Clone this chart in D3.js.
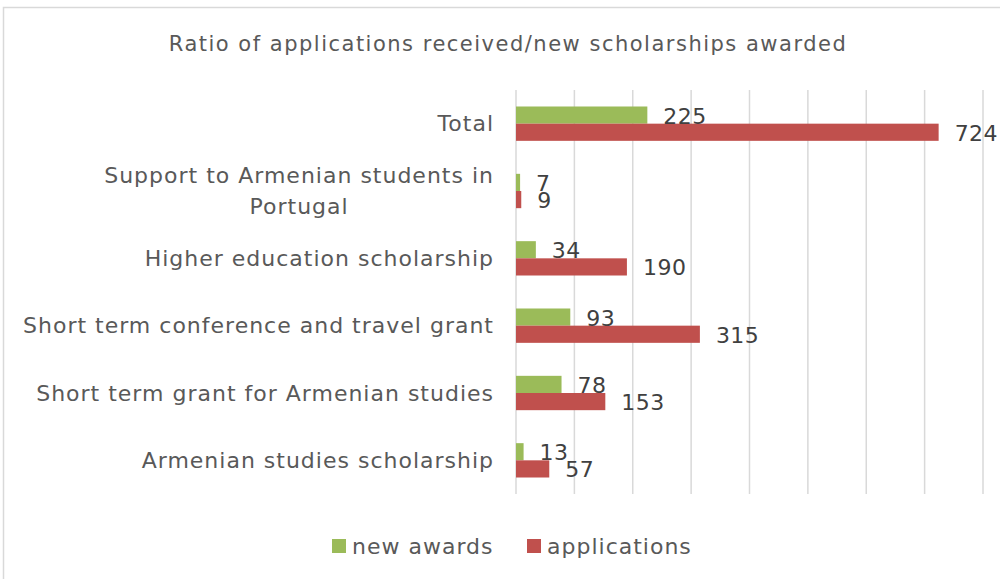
<!DOCTYPE html>
<html>
<head>
<meta charset="utf-8">
<script src="https://d3js.org/d3.v7.min.js"></script>
<style>
  body { margin: 0; background: #fff; }
  text { font-family: 'DejaVu Sans', sans-serif; }
</style>
</head>
<body>
<svg id="chart"></svg>
<script>
const title = 'Ratio of applications received/new scholarships awarded';
const categories = [
  'Total',
  'Support to Armenian students in Portugal',
  'Higher education scholarship',
  'Short term conference and travel grant',
  'Short term grant for Armenian studies',
  'Armenian studies scholarship'
];
const seriesNames = ['new awards', 'applications'];
const newAwards = [225, 7, 34, 93, 78, 13];
const applications = [724, 9, 190, 315, 153, 57];
const xTicks = [0, 100, 200, 300, 400, 500, 600, 700, 800];

const width = 1000;
const height = 579;
const colors = {'new awards': '#9bbb59', 'applications': '#c0504d'};

const svg = d3.select('#chart')
  .attr('width', width)
  .attr('height', height);

// outer frame
svg.append('rect')
  .attr('x', 3.5)
  .attr('y', 7.5)
  .attr('width', width + 10)
  .attr('height', height + 10)
  .attr('fill', '#fff')
  .attr('stroke', '#d9d9d9')
  .attr('stroke-width', 1.5);

svg.append('text')
  .attr('x', 508)
  .attr('y', 44)
  .attr('text-anchor', 'middle')
  .attr('dominant-baseline', 'central')
  .attr('fill', '#595959')
  .style('font-size', '21px')
  .style('letter-spacing', '1.5px')
  .text(title);

const data = categories.map((c, i) => ({
  category: c,
  values: [
    {key: 'new awards', value: newAwards[i]},
    {key: 'applications', value: applications[i]}
  ]
}));

const xScale = d3.scaleLinear()
  .domain([0, 800])
  .range([516, 983]);

const yScale = d3.scaleBand()
  .domain(categories)
  .range([90, 494])
  .paddingInner(0.49)
  .paddingOuter(0.245);

const subScale = d3.scaleBand()
  .domain(seriesNames)
  .range([0, yScale.bandwidth()]);

// gridlines
svg.append('g')
  .selectAll('line')
  .data(xTicks)
  .join('line')
    .attr('x1', d => xScale(d))
    .attr('x2', d => xScale(d))
    .attr('y1', 90)
    .attr('y2', 494)
    .attr('stroke', '#d9d9d9')
    .attr('stroke-width', 1.5);

// category labels (wrapped lines are centred within the right-aligned block)
const labelMax = 480;
const labelX = 494;
const catG = svg.append('g');
catG.selectAll('text')
  .data(categories)
  .join('text')
    .attr('fill', '#595959')
    .style('font-size', '22px')
    .style('letter-spacing', '1px')
    .each(function(d) {
      const t = d3.select(this);
      const words = d.split(' ');
      const lines = [];
      let line = [];
      let tspan = t.append('tspan');
      words.forEach(w => {
        line.push(w);
        tspan.text(line.join(' '));
        if (tspan.node().getComputedTextLength() > labelMax && line.length > 1) {
          line.pop();
          lines.push(line.join(' '));
          line = [w];
          tspan.text(w);
        }
      });
      lines.push(line.join(' '));
      let maxW = 0;
      lines.forEach(l => {
        tspan.text(l);
        maxW = Math.max(maxW, tspan.node().getComputedTextLength());
      });
      tspan.remove();
      const lh = 31;
      const cy = yScale(d) + yScale.bandwidth() / 2;
      const cx = labelX - maxW / 2;
      t.attr('text-anchor', 'middle');
      lines.forEach((l, i) => {
        t.append('tspan')
          .attr('x', cx)
          .attr('y', cy + (i - (lines.length - 1) / 2) * lh)
          .attr('dominant-baseline', 'central')
          .text(l);
      });
    });

// bars
const groups = svg.append('g')
  .selectAll('g')
  .data(data)
  .join('g')
    .attr('transform', d => `translate(0, ${yScale(d.category)})`);

groups.selectAll('rect')
  .data(d => d.values)
  .join('rect')
    .attr('x', xScale(0))
    .attr('y', d => subScale(d.key))
    .attr('width', d => xScale(d.value) - xScale(0))
    .attr('height', subScale.bandwidth())
    .attr('fill', d => colors[d.key]);

groups.selectAll('text')
  .data(d => d.values)
  .join('text')
    .attr('x', d => xScale(d.value) + 16)
    .attr('y', d => subScale(d.key) + subScale.bandwidth() / 2 + 1)
    .attr('dominant-baseline', 'central')
    .attr('fill', '#404040')
    .style('font-size', '22px')
    .style('letter-spacing', '0.5px')
    .text(d => d.value);

// legend
const legendItems = [
  {key: 'new awards', x: 332},
  {key: 'applications', x: 527}
];
const legend = svg.append('g')
  .attr('transform', 'translate(0, 546)');
legend.selectAll('rect')
  .data(legendItems)
  .join('rect')
    .attr('x', d => d.x)
    .attr('y', -7)
    .attr('width', 14)
    .attr('height', 14)
    .attr('fill', d => colors[d.key]);
legend.selectAll('text')
  .data(legendItems)
  .join('text')
    .attr('x', d => d.x + 20)
    .attr('y', 0)
    .attr('dominant-baseline', 'central')
    .attr('fill', '#595959')
    .style('font-size', '22px')
    .style('letter-spacing', '1px')
    .text(d => d.key);
</script>
</body>
</html>
